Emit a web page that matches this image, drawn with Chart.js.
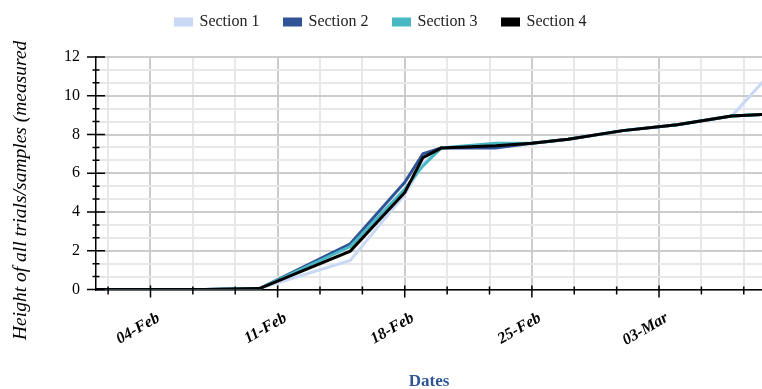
<!DOCTYPE html>
<html>
<head>
<meta charset="utf-8">
<script src="https://cdn.jsdelivr.net/npm/chart.js@4"></script>
<style>
  html, body { margin: 0; padding: 0; background: #fff; }
  #wrap { width: 762px; height: 389px; }
</style>
</head>
<body>
<div id="wrap"><canvas id="growth"></canvas></div>
<script>
// days counted from 04-Feb
const days = [-3, 0, 3, 6, 11, 14, 15, 16, 19, 21, 23, 26, 29, 32, 35];
const section1 = [0, 0, 0, 0.05, 1.5, 4.9, 6.5, 7.3, 7.5, 7.55, 7.75, 8.2, 8.5, 8.95, 12.05];
const section2 = [0, 0, 0, 0.05, 2.36, 5.53, 7.0, 7.3, 7.3, 7.55, 7.75, 8.2, 8.5, 8.95, 9.1];
const section3 = [0, 0, 0, 0.05, 2.22, 5.19, 6.38, 7.3, 7.55, 7.55, 7.75, 8.2, 8.5, 8.95, 9.1];
const section4 = [0, 0, 0, 0.05, 1.98, 5.01, 6.81, 7.3, 7.42, 7.55, 7.75, 8.2, 8.5, 8.95, 9.1];

const majorDays = [0, 7, 14, 21, 28];
const tickLabels = ['04-Feb', '11-Feb', '18-Feb', '25-Feb', '03-Mar'];
const yTitle = 'Height of all trials/samples (measured';

const SERIF = '"Liberation Serif", "Times New Roman", serif';

const pts = vals => days.map((d, i) => ({ x: d, y: vals[i] }));
const near = (v, step) => Math.abs(v / step - Math.round(v / step)) < 1e-6;

// axis tick marks that cross the axis line, plus the y title
const tickMarks = {
  id: 'tickMarks',
  afterInit(chart) {
    const lg = chart.legend;
    const fit = lg.fit;
    lg.fit = function () { fit.call(this); this.height += 6; };
    // legend sits a bit higher than its padding would put it
    const draw = lg.draw;
    lg.draw = function () {
      const c = this.ctx;
      c.save();
      c.translate(0, -11);
      draw.call(this);
      c.restore();
    };
  },
  afterDraw(chart) {
    const { ctx, scales: { x, y }, chartArea: a } = chart;
    ctx.save();
    ctx.strokeStyle = '#000';
    ctx.lineWidth = 1.5;
    ctx.beginPath();
    x.ticks.forEach(t => {
      const px = x.getPixelForValue(t.value);
      const big = near(t.value, 7);
      ctx.moveTo(px, a.bottom - (big ? 4 : 3));
      ctx.lineTo(px, a.bottom + (big ? 8 : 5));
    });
    y.ticks.forEach(t => {
      const py = y.getPixelForValue(t.value);
      const big = near(t.value, 2);
      ctx.moveTo(a.left - (big ? 9 : 3.5), py);
      ctx.lineTo(a.left + (big ? 9 : 3.5), py);
    });
    ctx.stroke();
    ctx.fillStyle = '#000';
    ctx.font = 'italic 19.5px ' + SERIF;
    ctx.textAlign = 'left';
    ctx.textBaseline = 'middle';
    ctx.translate(21, 340);
    ctx.rotate(-Math.PI / 2);
    ctx.fillText(yTitle, 0, 0);
    ctx.restore();
  }
};

new Chart(document.getElementById('growth'), {
  type: 'line',
  data: {
    datasets: [
      { label: 'Section 1', data: pts(section1), borderColor: '#c9d8f4', backgroundColor: '#c9d8f4', borderWidth: 3, order: 4 },
      { label: 'Section 2', data: pts(section2), borderColor: '#2f5597', backgroundColor: '#2f5597', borderWidth: 3, order: 3 },
      { label: 'Section 3', data: pts(section3), borderColor: '#47b8c4', backgroundColor: '#47b8c4', borderWidth: 3, order: 2 },
      { label: 'Section 4', data: pts(section4), borderColor: '#000000', backgroundColor: '#000000', borderWidth: 3, order: 1 }
    ]
  },
  options: {
    responsive: true,
    maintainAspectRatio: false,
    animation: false,
    layout: { padding: 0 },
    elements: { point: { radius: 0 }, line: { tension: 0 } },
    plugins: {
      legend: {
        position: 'top',
        labels: {
          font: { family: SERIF, size: 16 },
          color: '#222',
          boxWidth: 16,
          boxHeight: 6,
          padding: 25,
          sort: (a, b) => a.datasetIndex - b.datasetIndex
        }
      },
      tooltip: { enabled: false }
    },
    scales: {
      x: {
        type: 'linear',
        min: -3,
        max: 33.67,
        afterBuildTicks: s => {
          s.ticks = [];
          for (let k = -1; k <= 14; k++) s.ticks.push({ value: k * 7 / 3 });
        },
        afterFit: s => { s.height = 99.5; s.paddingLeft = 0; s.paddingRight = 0; },
        grid: {
          drawTicks: false,
          lineWidth: 2,
          color: c => (c.tick && near(c.tick.value, 7)) ? '#cccccc' : '#e8e8e8'
        },
        border: { color: '#000', width: 1.5 },
        ticks: {
          autoSkip: false,
          minRotation: 30,
          maxRotation: 30,
          padding: 19,
          labelOffset: 8,
          color: '#000',
          font: { family: SERIF, size: 16, style: 'italic', weight: 'bold' },
          callback: v => {
            const i = majorDays.findIndex(d => Math.abs(d - v) < 1e-6);
            return i >= 0 ? tickLabels[i] : '';
          }
        },
        title: {
          display: true,
          text: 'Dates',
          color: '#2f5597',
          font: { family: SERIF, size: 17, weight: 'bold' },
          padding: { top: 0, bottom: -3 }
        }
      },
      y: {
        min: 0,
        max: 12,
        afterBuildTicks: s => {
          s.ticks = [];
          for (let k = 0; k <= 18; k++) s.ticks.push({ value: k * 2 / 3 });
        },
        afterFit: s => { s.width = 96; s.paddingTop = 0; s.paddingBottom = 0; },
        grid: {
          drawTicks: false,
          lineWidth: 2,
          color: c => (c.tick && near(c.tick.value, 2)) ? '#cccccc' : '#e8e8e8'
        },
        border: { color: '#000', width: 1.5 },
        ticks: {
          autoSkip: false,
          padding: 16,
          color: '#000',
          font: { family: SERIF, size: 16 },
          callback: v => near(v, 2) ? String(Math.round(v)) : ''
        }
      }
    }
  },
  plugins: [tickMarks]
});
</script>
</body>
</html>
